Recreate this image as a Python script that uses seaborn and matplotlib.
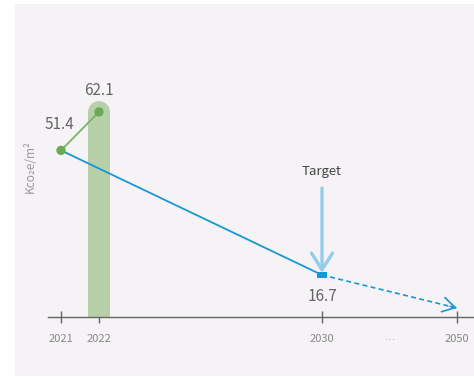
import numpy as np
import pandas as pd
import matplotlib.pyplot as plt
import matplotlib.transforms as mtransforms
from matplotlib.patches import Rectangle
import seaborn as sns

# data
years = ['2021', '2022', '2030', '2050']
actual_years = ['2021', '2022']
actual_values = [51.4, 62.1]
target_year = '2030'
target_value = 16.7
end_year = '2050'
end_value = 7.5          # where the dashed path arrow ends
y_label = 'Kco₂e/m²'

# broken x axis: position of each year on the axis
x_pos = {'2021': 0.0, '2022': 1.0, '2030': 6.87, '2050': 10.42}
dots_pos = 8.66

sns.set_style('white')
plt.rcParams['font.family'] = ['Noto Sans CJK SC', 'DejaVu Sans']

fig = plt.figure(figsize=(4.74, 3.77), dpi=100)
fig.patch.set_facecolor('white')
fig.patches.append(Rectangle((15 / 474, 1 / 377), 459 / 474, 372 / 377,
                             transform=fig.transFigure, facecolor='#f5f3f5',
                             edgecolor='none', zorder=-1))

ax = fig.add_axes([48 / 474, 60 / 377, 426 / 474, 297 / 377])
ax.set_zorder(2)
ax.set_facecolor('none')

bar_color = '#b8d0a9'
green = '#6aaa55'
blue = '#1a96d4'
light_blue = '#93cdec'
txt = '#666666'

# 2022 rounded bar
ax.plot([x_pos['2022']] * 2, [0, actual_values[1]], color=bar_color,
        lw=22 * 0.72, solid_capstyle='round', zorder=1)

# green actual line + points
act = pd.DataFrame({'x': [x_pos[y] for y in actual_years], 'v': actual_values})
sns.lineplot(data=act, x='x', y='v', color='#7db466', lw=1.3, ax=ax, zorder=3)

# blue path to target
path = pd.DataFrame({'x': [x_pos['2021'], x_pos[target_year]],
                     'v': [actual_values[0], target_value]})
sns.lineplot(data=path, x='x', y='v', color=blue, lw=1.3, ax=ax, zorder=2)

# dashed path to 2050
dash = pd.DataFrame({'x': [x_pos[target_year], x_pos[end_year]],
                     'v': [target_value, end_value]})
sns.lineplot(data=dash, x='x', y='v', color=blue, lw=1.2, ax=ax,
             linestyle=(0, (3, 2)), zorder=2)
dx = x_pos[end_year] - x_pos[target_year]
dv = end_value - target_value
ax.annotate('', xy=(x_pos[end_year], end_value),
            xytext=(x_pos[end_year] - 0.05 * dx, end_value - 0.05 * dv),
            arrowprops=dict(arrowstyle='->,head_length=0.6,head_width=0.35',
                            color=blue, lw=1.2, shrinkA=0, shrinkB=0,
                            mutation_scale=15))

sns.scatterplot(x=[x_pos[y] for y in actual_years], y=actual_values,
                color=green, s=45, edgecolor='none', ax=ax, zorder=4)
flat_square = [(-1, -0.5), (1, -0.5), (1, 0.5), (-1, 0.5), (-1, -0.5)]
ax.plot([x_pos[target_year]], [target_value], marker=flat_square, color=blue,
        markersize=7.5, markeredgewidth=0, zorder=4, linestyle='none')

# target arrow
ax.annotate('', xy=(x_pos[target_year], target_value + 0.6),
            xytext=(x_pos[target_year], 40.9),
            arrowprops=dict(arrowstyle='->,head_length=0.6,head_width=0.38',
                            color=light_blue, lw=2.4, shrinkA=0, shrinkB=0,
                            mutation_scale=20))
ax.text(x_pos[target_year], 45.4, 'Target', ha='center', va='center',
        fontsize=9.5, color='#444444')

# value labels
ax.text(x_pos['2021'] - 0.03, 58.6, f'{actual_values[0]}', ha='center',
        va='center', fontsize=11, color=txt)
ax.text(x_pos['2022'], 68.0, f'{actual_values[1]}', ha='center',
        va='center', fontsize=11, color=txt)
ax.text(x_pos[target_year], 10.6, f'{target_value}', ha='center',
        va='center', fontsize=11, color=txt)

ax.set_xlim(-0.342, 10.87)
ax.set_ylim(5, 87.7)
ax.set_xticks([x_pos[y] for y in years])
ax.set_xticklabels(years)
ax.set_yticks([])
ax.set_xlabel('')
ax.set_ylabel('')
ax.tick_params(axis='x', bottom=True, direction='inout', length=8.6, width=1,
               colors='#666666', labelcolor='#888888', labelsize=8, pad=8)
for s in ['left', 'top', 'right']:
    ax.spines[s].set_visible(False)
ax.spines['bottom'].set_color('#666666')
ax.spines['bottom'].set_linewidth(1)

trans = mtransforms.blended_transform_factory(ax.transData, ax.transAxes)
ax.text(dots_pos, -0.067, '…', transform=trans, ha='center', va='center',
        fontsize=7.5, color='#aaaaaa', family=['DejaVu Sans'])

fig.text(30 / 474, 1 - 167 / 377, y_label, rotation=90, ha='center',
         va='center', fontsize=8.5, color='#999999')

fig.savefig('out.png', dpi=100)
